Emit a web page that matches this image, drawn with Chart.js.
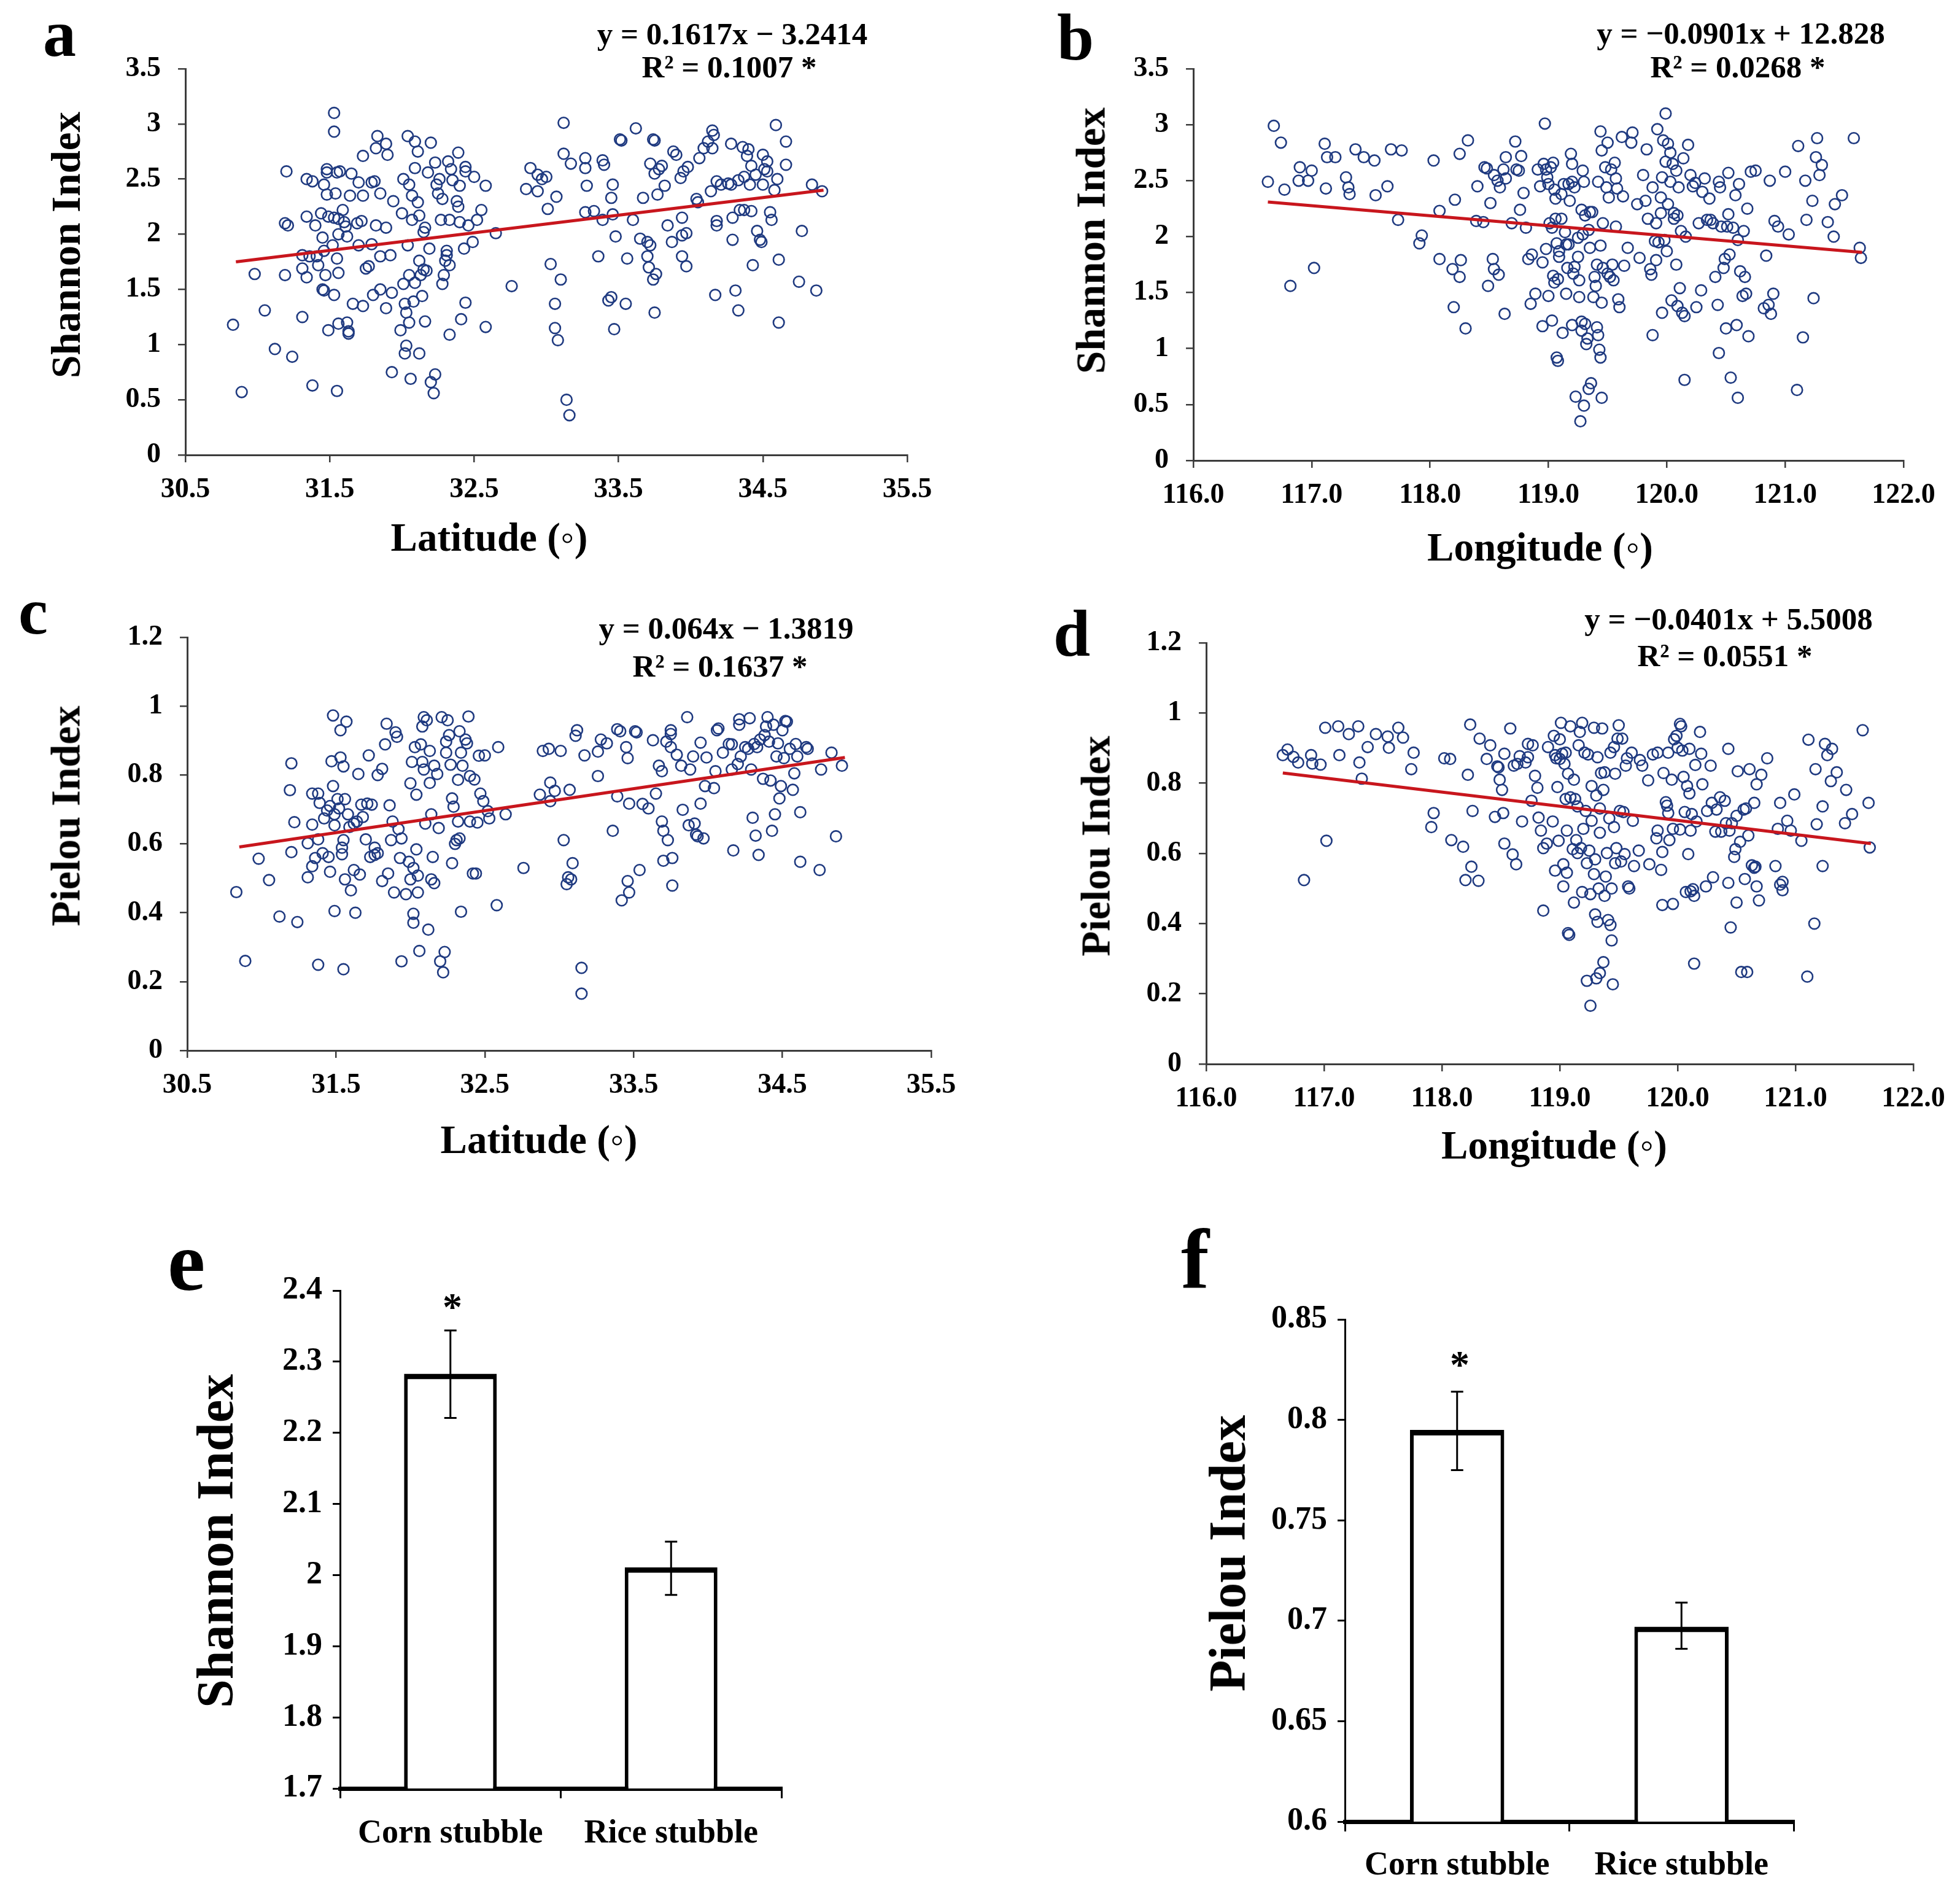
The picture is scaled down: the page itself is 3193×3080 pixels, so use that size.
<!DOCTYPE html>
<html><head><meta charset="utf-8">
<script src="https://cdn.jsdelivr.net/npm/chart.js@4.4.1/dist/chart.umd.min.js"></script>
<style>
html,body{margin:0;padding:0;background:#fff;}
#root{position:relative;width:3193px;height:3080px;overflow:hidden;background:#fff;}
canvas{position:absolute;}
.t{position:absolute;font-family:'Liberation Serif','Times New Roman',serif;font-weight:bold;line-height:1;white-space:nowrap;color:#000;}
</style></head><body><div id="root"></div>
<script>
// ---------------- DATA ----------------
const latTicks = [30.5, 31.5, 32.5, 33.5, 34.5, 35.5];
const latTickLabels = ["30.5", "31.5", "32.5", "33.5", "34.5", "35.5"];
const lonTicks = [116, 117, 118, 119, 120, 121, 122];
const lonTickLabels = ["116.0", "117.0", "118.0", "119.0", "120.0", "121.0", "122.0"];
const shannonTicks = [0, 0.5, 1, 1.5, 2, 2.5, 3, 3.5];
const shannonTickLabels = ["0", "0.5", "1", "1.5", "2", "2.5", "3", "3.5"];
const pielouTicks = [0, 0.2, 0.4, 0.6, 0.8, 1, 1.2];
const pielouTickLabels = ["0", "0.2", "0.4", "0.6", "0.8", "1", "1.2"];

// panel a: latitude vs Shannon
const shannonByLat = [[30.83,1.18],[30.89,0.57],[30.98,1.64],[31.05,1.31],[31.12,0.96],[31.19,1.63],[31.19,2.10],[31.21,2.08],[31.20,2.57],[31.24,0.89],[31.31,1.81],[31.31,1.25],[31.31,1.69],[31.34,2.50],[31.34,2.16],[31.34,1.61],[31.36,1.80],[31.38,2.48],[31.38,0.63],[31.40,2.08],[31.41,1.80],[31.42,1.72],[31.44,2.19],[31.45,1.97],[31.45,1.50],[31.46,1.85],[31.46,1.49],[31.46,2.45],[31.47,1.63],[31.48,2.59],[31.48,2.56],[31.48,2.36],[31.49,1.13],[31.49,2.16],[31.52,1.90],[31.53,3.10],[31.53,2.93],[31.53,2.15],[31.53,1.45],[31.54,2.37],[31.55,0.58],[31.55,2.56],[31.55,1.78],[31.56,1.65],[31.56,1.19],[31.56,2.14],[31.57,2.57],[31.56,2.00],[31.59,2.22],[31.60,2.11],[31.61,2.07],[31.62,1.98],[31.62,1.20],[31.63,1.10],[31.63,1.12],[31.64,2.35],[31.65,2.55],[31.66,1.37],[31.69,2.10],[31.70,2.47],[31.70,1.90],[31.72,2.12],[31.73,2.35],[31.73,2.71],[31.73,1.35],[31.75,1.69],[31.77,1.71],[31.79,1.91],[31.79,2.47],[31.80,1.45],[31.81,2.48],[31.82,2.08],[31.82,2.78],[31.83,2.89],[31.85,2.37],[31.85,1.80],[31.85,1.50],[31.89,2.82],[31.89,2.06],[31.89,1.33],[31.90,2.72],[31.92,1.81],[31.93,0.75],[31.94,2.30],[31.93,1.47],[31.99,1.13],[32.00,2.19],[32.01,2.50],[32.01,1.55],[32.02,1.37],[32.02,0.92],[32.03,0.99],[32.03,1.29],[32.04,1.90],[32.04,2.89],[32.05,2.45],[32.05,1.63],[32.05,1.20],[32.06,0.69],[32.07,2.35],[32.07,2.13],[32.08,1.39],[32.09,2.84],[32.09,2.60],[32.09,1.56],[32.11,2.29],[32.11,2.75],[32.12,0.92],[32.12,2.17],[32.12,1.76],[32.13,1.63],[32.14,1.44],[32.15,2.02],[32.15,1.68],[32.16,2.06],[32.16,1.21],[32.17,1.67],[32.18,2.56],[32.19,1.87],[32.20,2.83],[32.20,0.66],[32.22,0.56],[32.23,0.73],[32.23,2.65],[32.24,2.45],[32.25,2.37],[32.26,2.50],[32.27,2.13],[32.28,1.55],[32.28,2.32],[32.29,1.63],[32.30,1.76],[32.31,1.85],[32.31,1.81],[32.32,2.66],[32.33,1.72],[32.33,1.09],[32.33,2.13],[32.34,2.59],[32.35,2.49],[32.38,2.30],[32.39,2.25],[32.39,2.74],[32.40,2.44],[32.40,2.11],[32.41,1.23],[32.43,1.87],[32.44,1.38],[32.44,2.61],[32.44,2.57],[32.46,2.08],[32.49,1.93],[32.50,2.52],[32.52,2.13],[32.55,2.22],[32.58,1.16],[32.58,2.44],[32.65,2.01],[32.76,1.53],[32.86,2.41],[32.89,2.60],[32.94,2.54],[32.94,2.39],[32.97,2.50],[33.00,2.52],[33.01,2.23],[33.03,1.73],[33.06,1.37],[33.06,1.15],[33.07,2.34],[33.08,1.04],[33.10,1.59],[33.12,2.73],[33.12,3.01],[33.14,0.50],[33.16,0.36],[33.17,2.64],[33.27,2.69],[33.27,2.20],[33.27,2.60],[33.28,2.44],[33.33,2.21],[33.36,1.80],[33.39,2.13],[33.39,2.67],[33.40,2.63],[33.43,1.40],[33.45,1.43],[33.45,2.33],[33.46,2.18],[33.46,2.45],[33.47,1.14],[33.48,1.98],[33.51,2.86],[33.52,2.85],[33.55,1.37],[33.56,1.78],[33.60,2.13],[33.62,2.96],[33.65,1.96],[33.67,2.33],[33.70,1.93],[33.70,1.80],[33.71,1.70],[33.72,2.64],[33.72,1.90],[33.74,1.59],[33.75,1.29],[33.76,1.64],[33.74,2.86],[33.75,2.85],[33.75,2.55],[33.77,2.36],[33.78,2.59],[33.80,2.62],[33.82,2.44],[33.84,2.08],[33.87,1.93],[33.88,2.75],[33.90,2.72],[33.93,2.51],[33.94,2.15],[33.94,1.80],[33.95,2.57],[33.94,1.99],[33.97,1.71],[33.97,2.01],[33.98,2.61],[34.04,2.32],[34.05,2.29],[34.06,2.69],[34.09,2.78],[34.12,2.84],[34.14,2.39],[34.15,2.94],[34.16,2.90],[34.15,2.78],[34.17,1.45],[34.18,2.48],[34.18,2.08],[34.18,2.12],[34.21,2.45],[34.26,2.46],[34.28,2.82],[34.28,2.45],[34.29,1.95],[34.29,2.15],[34.31,1.49],[34.33,1.31],[34.33,2.49],[34.34,2.22],[34.36,2.79],[34.37,2.22],[34.37,2.52],[34.39,2.71],[34.40,2.77],[34.41,2.45],[34.42,2.62],[34.42,2.21],[34.43,1.72],[34.45,2.54],[34.46,2.03],[34.48,1.95],[34.49,1.93],[34.50,2.72],[34.50,2.45],[34.51,2.59],[34.53,2.66],[34.53,2.57],[34.55,2.20],[34.56,2.13],[34.58,2.40],[34.59,2.99],[34.60,2.50],[34.61,1.77],[34.61,1.20],[34.66,2.63],[34.66,2.84],[34.75,1.57],[34.77,2.03],[34.84,2.45],[34.87,1.49],[34.91,2.39]];
const shannonLatTrend = [[30.85,1.75],[34.92,2.40]];

// panel b: longitude vs Shannon
const shannonByLon = [[116.63,2.49],[116.68,2.99],[116.74,2.84],[116.77,2.42],[116.82,1.56],[116.89,2.50],[116.90,2.62],[116.97,2.50],[117.00,2.59],[117.02,1.72],[117.11,2.83],[117.12,2.43],[117.13,2.71],[117.20,2.71],[117.29,2.53],[117.31,2.44],[117.32,2.38],[117.37,2.78],[117.44,2.71],[117.53,2.68],[117.54,2.37],[117.64,2.45],[117.67,2.78],[117.76,2.77],[117.73,2.15],[117.91,1.94],[117.93,2.01],[118.03,2.68],[118.08,2.23],[118.08,1.80],[118.19,1.71],[118.20,1.37],[118.21,2.33],[118.25,2.74],[118.25,1.64],[118.26,1.79],[118.30,1.18],[118.32,2.86],[118.39,2.14],[118.40,2.45],[118.45,2.13],[118.46,2.62],[118.48,2.61],[118.49,1.56],[118.51,2.30],[118.53,1.80],[118.54,2.55],[118.54,1.71],[118.57,2.50],[118.58,1.66],[118.59,2.44],[118.62,2.60],[118.63,1.31],[118.64,2.52],[118.64,2.71],[118.69,2.12],[118.72,2.85],[118.73,2.60],[118.75,2.59],[118.76,2.24],[118.77,2.72],[118.79,2.39],[118.81,2.08],[118.83,1.80],[118.85,1.40],[118.86,1.84],[118.89,1.49],[118.91,2.60],[118.93,2.45],[118.95,1.77],[118.95,1.20],[118.96,2.65],[118.97,3.01],[118.98,2.60],[118.98,1.89],[118.99,2.53],[119.00,2.47],[119.00,1.47],[119.01,2.12],[119.02,2.62],[119.03,1.25],[119.03,2.08],[119.04,1.65],[119.04,2.66],[119.05,2.42],[119.05,1.59],[119.06,2.34],[119.06,2.16],[119.07,1.94],[119.07,0.92],[119.08,0.89],[119.08,1.62],[119.09,1.82],[119.09,1.87],[119.11,2.38],[119.11,2.16],[119.12,1.14],[119.13,2.47],[119.14,2.04],[119.15,1.93],[119.15,1.49],[119.16,1.72],[119.17,1.93],[119.17,2.47],[119.18,2.32],[119.19,2.74],[119.20,2.65],[119.20,2.49],[119.20,1.21],[119.21,1.67],[119.22,1.73],[119.22,2.44],[119.23,0.57],[119.25,1.82],[119.25,1.99],[119.26,1.61],[119.26,1.46],[119.27,0.35],[119.28,2.24],[119.28,1.24],[119.28,1.16],[119.29,2.02],[119.29,2.59],[119.30,0.49],[119.30,2.49],[119.31,2.19],[119.31,1.22],[119.32,1.04],[119.33,1.09],[119.34,2.06],[119.34,0.64],[119.35,2.22],[119.35,1.90],[119.36,0.69],[119.37,2.22],[119.38,1.46],[119.39,1.64],[119.40,1.56],[119.41,1.75],[119.41,1.19],[119.42,1.12],[119.42,2.49],[119.43,0.99],[119.44,0.92],[119.44,2.94],[119.44,1.92],[119.45,2.77],[119.45,1.41],[119.45,0.56],[119.46,2.12],[119.46,1.72],[119.48,2.62],[119.49,2.44],[119.50,2.84],[119.50,1.67],[119.51,2.35],[119.52,1.64],[119.53,2.60],[119.54,1.75],[119.55,1.61],[119.56,2.66],[119.57,2.09],[119.57,2.52],[119.58,2.43],[119.59,1.44],[119.60,1.37],[119.62,2.89],[119.63,2.36],[119.64,1.74],[119.67,1.90],[119.70,2.84],[119.71,2.93],[119.75,2.29],[119.77,1.81],[119.80,2.55],[119.82,2.32],[119.83,2.78],[119.84,2.16],[119.86,1.71],[119.87,1.66],[119.88,1.12],[119.88,2.44],[119.90,1.96],[119.91,1.79],[119.91,2.12],[119.92,2.96],[119.93,1.95],[119.95,2.35],[119.95,2.21],[119.96,2.53],[119.96,1.32],[119.97,2.86],[119.98,1.97],[119.99,3.10],[119.99,2.67],[120.00,1.87],[120.01,2.29],[120.01,2.83],[120.03,2.49],[120.03,2.75],[120.04,1.43],[120.05,2.65],[120.06,2.16],[120.06,2.21],[120.08,2.59],[120.08,1.75],[120.09,2.19],[120.09,1.38],[120.10,2.44],[120.11,1.54],[120.12,2.05],[120.13,1.32],[120.14,2.70],[120.15,1.29],[120.15,0.72],[120.16,2.00],[120.18,2.82],[120.20,2.55],[120.22,2.45],[120.24,2.48],[120.25,1.37],[120.27,2.12],[120.29,1.52],[120.30,2.40],[120.32,2.52],[120.34,2.15],[120.36,2.34],[120.37,2.15],[120.39,2.12],[120.41,1.64],[120.43,1.39],[120.44,0.96],[120.44,2.49],[120.45,2.44],[120.46,2.09],[120.48,1.72],[120.49,1.80],[120.50,1.18],[120.51,2.09],[120.52,2.20],[120.52,2.57],[120.53,1.84],[120.54,0.74],[120.56,2.08],[120.58,2.37],[120.59,1.21],[120.60,1.97],[120.60,0.56],[120.61,2.47],[120.62,1.69],[120.64,1.47],[120.65,2.05],[120.66,1.64],[120.67,1.49],[120.68,2.25],[120.69,1.11],[120.71,2.58],[120.75,2.59],[120.82,1.36],[120.84,1.83],[120.86,1.39],[120.87,2.50],[120.88,1.31],[120.90,1.49],[120.91,2.14],[120.94,2.09],[121.00,2.58],[121.03,2.02],[121.10,0.63],[121.11,2.81],[121.15,1.10],[121.17,2.50],[121.18,2.15],[121.23,2.32],[121.24,1.45],[121.26,2.71],[121.27,2.88],[121.29,2.55],[121.31,2.64],[121.36,2.13],[121.41,2.00],[121.42,2.29],[121.48,2.37],[121.58,2.88],[121.63,1.90],[121.64,1.81]];
const shannonLonTrend = [[116.63,2.31],[121.65,1.86]];

// panel c: latitude vs Pielou
const pielouByLat = [[30.83,0.46],[30.89,0.26],[30.98,0.557],[31.05,0.495],[31.12,0.389],[31.19,0.756],[31.20,0.834],[31.20,0.576],[31.22,0.663],[31.24,0.373],[31.31,0.602],[31.31,0.503],[31.34,0.746],[31.34,0.656],[31.34,0.535],[31.36,0.559],[31.38,0.746],[31.38,0.613],[31.38,0.249],[31.39,0.719],[31.41,0.573],[31.42,0.674],[31.44,0.697],[31.45,0.562],[31.46,0.519],[31.46,0.710],[31.47,0.840],[31.48,0.973],[31.48,0.768],[31.49,0.405],[31.49,0.654],[31.49,0.686],[31.51,0.730],[31.52,0.703],[31.53,0.930],[31.53,0.851],[31.54,0.570],[31.54,0.589],[31.55,0.236],[31.55,0.611],[31.55,0.825],[31.56,0.497],[31.56,0.730],[31.57,0.955],[31.58,0.686],[31.59,0.649],[31.60,0.465],[31.62,0.524],[31.62,0.659],[31.63,0.400],[31.64,0.665],[31.65,0.803],[31.66,0.511],[31.67,0.714],[31.68,0.678],[31.70,0.613],[31.71,0.717],[31.72,0.857],[31.73,0.562],[31.74,0.714],[31.76,0.568],[31.76,0.589],[31.78,0.800],[31.78,0.573],[31.81,0.492],[31.81,0.818],[31.83,0.889],[31.84,0.949],[31.85,0.514],[31.86,0.712],[31.87,0.611],[31.88,0.665],[31.89,0.459],[31.90,0.924],[31.91,0.911],[31.92,0.643],[31.93,0.559],[31.94,0.259],[31.94,0.616],[31.97,0.454],[31.99,0.548],[32.00,0.776],[32.00,0.497],[32.01,0.838],[32.02,0.397],[32.02,0.530],[32.02,0.371],[32.03,0.881],[32.04,0.743],[32.04,0.584],[32.05,0.508],[32.05,0.459],[32.06,0.289],[32.07,0.889],[32.08,0.838],[32.08,0.941],[32.09,0.968],[32.09,0.816],[32.10,0.659],[32.11,0.959],[32.12,0.351],[32.13,0.870],[32.13,0.777],[32.14,0.686],[32.14,0.497],[32.15,0.562],[32.16,0.486],[32.16,0.827],[32.18,0.803],[32.19,0.646],[32.20,0.259],[32.21,0.968],[32.22,0.227],[32.23,0.286],[32.24,0.865],[32.24,0.897],[32.25,0.959],[32.26,0.916],[32.27,0.830],[32.28,0.544],[32.28,0.732],[32.29,0.708],[32.30,0.600],[32.31,0.611],[32.32,0.786],[32.32,0.665],[32.33,0.927],[32.33,0.616],[32.34,0.403],[32.34,0.865],[32.35,0.827],[32.37,0.903],[32.38,0.892],[32.39,0.970],[32.40,0.797],[32.40,0.665],[32.42,0.514],[32.43,0.787],[32.44,0.514],[32.45,0.662],[32.46,0.856],[32.47,0.746],[32.49,0.724],[32.50,0.857],[32.52,0.695],[32.53,0.674],[32.58,0.422],[32.59,0.881],[32.64,0.686],[32.76,0.530],[32.87,0.743],[32.89,0.870],[32.93,0.876],[32.94,0.778],[32.94,0.724],[32.97,0.754],[33.01,0.870],[33.03,0.611],[33.05,0.483],[33.06,0.503],[33.07,0.757],[33.08,0.497],[33.09,0.544],[33.11,0.914],[33.12,0.930],[33.15,0.240],[33.15,0.165],[33.17,0.857],[33.26,0.797],[33.26,0.868],[33.28,0.903],[33.32,0.892],[33.36,0.638],[33.39,0.738],[33.39,0.933],[33.41,0.927],[33.42,0.436],[33.45,0.881],[33.46,0.849],[33.46,0.492],[33.47,0.459],[33.47,0.717],[33.51,0.927],[33.52,0.924],[33.54,0.524],[33.56,0.716],[33.60,0.703],[33.63,0.901],[33.65,0.746],[33.67,0.827],[33.69,0.811],[33.69,0.665],[33.70,0.551],[33.70,0.638],[33.72,0.897],[33.73,0.611],[33.75,0.930],[33.75,0.919],[33.75,0.881],[33.76,0.479],[33.76,0.559],[33.79,0.859],[33.82,0.827],[33.83,0.699],[33.86,0.968],[33.87,0.654],[33.88,0.816],[33.90,0.854],[33.91,0.659],[33.92,0.627],[33.93,0.622],[33.95,0.717],[33.95,0.894],[33.97,0.616],[33.98,0.768],[33.99,0.851],[34.04,0.762],[34.05,0.811],[34.06,0.930],[34.07,0.935],[34.10,0.865],[34.14,0.890],[34.16,0.816],[34.16,0.889],[34.17,0.581],[34.20,0.832],[34.21,0.946],[34.21,0.962],[34.22,0.854],[34.25,0.881],[34.27,0.876],[34.28,0.965],[34.29,0.816],[34.30,0.676],[34.31,0.890],[34.32,0.624],[34.33,0.881],[34.34,0.568],[34.35,0.903],[34.37,0.789],[34.38,0.916],[34.39,0.941],[34.40,0.968],[34.41,0.897],[34.42,0.784],[34.43,0.638],[34.44,0.946],[34.45,0.686],[34.46,0.854],[34.47,0.892],[34.48,0.732],[34.49,0.768],[34.50,0.930],[34.51,0.849],[34.52,0.957],[34.53,0.955],[34.55,0.876],[34.57,0.757],[34.58,0.805],[34.59,0.890],[34.60,0.854],[34.62,0.692],[34.62,0.548],[34.66,0.881],[34.67,0.876],[34.75,0.524],[34.76,0.816],[34.83,0.865],[34.86,0.622],[34.90,0.827]];
const pielouLatTrend = [[30.85,0.591],[34.92,0.851]];

// panel d: longitude vs Pielou
const pielouByLon = [[116.65,0.880],[116.69,0.896],[116.74,0.875],[116.78,0.859],[116.83,0.524],[116.89,0.880],[116.90,0.856],[116.97,0.853],[117.01,0.958],[117.02,0.636],[117.12,0.962],[117.13,0.880],[117.21,0.940],[117.29,0.962],[117.30,0.859],[117.32,0.813],[117.37,0.903],[117.44,0.940],[117.54,0.933],[117.55,0.901],[117.63,0.958],[117.67,0.930],[117.74,0.840],[117.76,0.887],[117.91,0.675],[117.93,0.715],[118.02,0.871],[118.07,0.869],[118.08,0.638],[118.18,0.619],[118.20,0.524],[118.22,0.824],[118.24,0.967],[118.25,0.562],[118.26,0.721],[118.31,0.522],[118.32,0.927],[118.38,0.869],[118.41,0.908],[118.45,0.704],[118.47,0.848],[118.48,0.845],[118.49,0.810],[118.51,0.781],[118.52,0.715],[118.53,0.628],[118.53,0.884],[118.58,0.956],[118.60,0.597],[118.61,0.850],[118.63,0.569],[118.64,0.855],[118.66,0.877],[118.68,0.691],[118.71,0.859],[118.73,0.874],[118.73,0.912],[118.76,0.750],[118.77,0.908],[118.79,0.821],[118.81,0.787],[118.82,0.702],[118.84,0.665],[118.86,0.615],[118.86,0.437],[118.89,0.628],[118.90,0.903],[118.94,0.691],[118.95,0.935],[118.96,0.880],[118.96,0.551],[118.97,0.871],[118.98,0.789],[118.99,0.636],[119.00,0.925],[119.00,0.869],[119.01,0.972],[119.02,0.884],[119.03,0.569],[119.03,0.506],[119.04,0.855],[119.05,0.755],[119.05,0.887],[119.06,0.665],[119.06,0.545],[119.07,0.827],[119.07,0.373],[119.08,0.368],[119.09,0.760],[119.09,0.962],[119.11,0.612],[119.12,0.460],[119.12,0.810],[119.13,0.755],[119.14,0.638],[119.15,0.601],[119.15,0.734],[119.16,0.908],[119.17,0.946],[119.18,0.615],[119.19,0.490],[119.19,0.972],[119.20,0.670],[119.21,0.887],[119.22,0.721],[119.23,0.237],[119.23,0.572],[119.24,0.882],[119.25,0.608],[119.26,0.484],[119.26,0.166],[119.27,0.693],[119.27,0.792],[119.29,0.958],[119.29,0.541],[119.30,0.583],[119.30,0.426],[119.31,0.765],[119.31,0.244],[119.32,0.405],[119.32,0.874],[119.33,0.500],[119.34,0.659],[119.34,0.728],[119.34,0.259],[119.35,0.829],[119.36,0.956],[119.37,0.290],[119.37,0.781],[119.38,0.831],[119.38,0.479],[119.39,0.534],[119.40,0.601],[119.41,0.410],[119.42,0.700],[119.43,0.396],[119.43,0.887],[119.44,0.352],[119.44,0.500],[119.45,0.227],[119.46,0.675],[119.46,0.903],[119.47,0.572],[119.47,0.827],[119.48,0.615],[119.49,0.927],[119.50,0.965],[119.51,0.721],[119.52,0.577],[119.53,0.927],[119.54,0.718],[119.55,0.598],[119.56,0.850],[119.57,0.871],[119.58,0.506],[119.59,0.500],[119.61,0.887],[119.62,0.693],[119.63,0.564],[119.67,0.608],[119.68,0.866],[119.70,0.850],[119.75,0.808],[119.76,0.569],[119.79,0.882],[119.82,0.643],[119.83,0.665],[119.83,0.887],[119.86,0.553],[119.87,0.604],[119.87,0.453],[119.88,0.829],[119.90,0.746],[119.91,0.736],[119.92,0.887],[119.92,0.715],[119.93,0.638],[119.95,0.810],[119.96,0.670],[119.96,0.456],[119.97,0.925],[119.99,0.935],[120.00,0.901],[120.02,0.969],[120.02,0.668],[120.03,0.962],[120.04,0.893],[120.05,0.818],[120.06,0.718],[120.07,0.490],[120.08,0.792],[120.09,0.598],[120.10,0.898],[120.10,0.771],[120.11,0.665],[120.11,0.492],[120.12,0.712],[120.13,0.498],[120.14,0.286],[120.14,0.479],[120.15,0.852],[120.16,0.691],[120.19,0.946],[120.20,0.884],[120.21,0.797],[120.24,0.506],[120.25,0.721],[120.28,0.850],[120.29,0.744],[120.30,0.532],[120.32,0.662],[120.33,0.725],[120.36,0.760],[120.37,0.662],[120.40,0.750],[120.41,0.686],[120.43,0.516],[120.43,0.898],[120.44,0.665],[120.45,0.389],[120.46,0.686],[120.48,0.590],[120.49,0.612],[120.50,0.707],[120.50,0.460],[120.51,0.834],[120.53,0.633],[120.54,0.262],[120.56,0.725],[120.57,0.527],[120.58,0.728],[120.59,0.262],[120.60,0.651],[120.61,0.840],[120.63,0.566],[120.65,0.559],[120.65,0.744],[120.66,0.562],[120.67,0.797],[120.67,0.506],[120.69,0.466],[120.71,0.824],[120.76,0.871],[120.83,0.564],[120.85,0.670],[120.87,0.744],[120.87,0.511],[120.89,0.495],[120.89,0.519],[120.93,0.693],[120.96,0.665],[120.99,0.768],[121.05,0.636],[121.10,0.249],[121.11,0.924],[121.16,0.400],[121.17,0.840],[121.18,0.683],[121.23,0.734],[121.23,0.564],[121.25,0.912],[121.27,0.880],[121.30,0.806],[121.31,0.898],[121.35,0.831],[121.42,0.686],[121.43,0.781],[121.48,0.712],[121.57,0.951],[121.62,0.744],[121.63,0.617]];
const pielouLonTrend = [[116.65,0.829],[121.64,0.628]];

// panels e / f: bar charts
const stubbleCategories = ["Corn stubble", "Rice stubble"];
const shannonMeans = [2.283, 2.011];
const shannonErrLow = [2.221, 1.972];
const shannonErrHigh = [2.344, 2.047];
const shannonBarTicks = [1.7, 1.8, 1.9, 2.0, 2.1, 2.2, 2.3, 2.4];
const shannonBarTickLabels = ["1.7", "1.8", "1.9", "2", "2.1", "2.2", "2.3", "2.4"];
const pielouMeans = [0.795, 0.697];
const pielouErrLow = [0.775, 0.686];
const pielouErrHigh = [0.814, 0.709];
const pielouBarTicks = [0.6, 0.65, 0.7, 0.75, 0.8, 0.85];
const pielouBarTickLabels = ["0.6", "0.65", "0.7", "0.75", "0.8", "0.85"];

// ---------------- RENDER ----------------
const FONT = "'Liberation Serif', 'Times New Roman', serif";
const NAVY = '#1F3A80';
const RED = '#C8161D';
const AX = '#3c3c3c';
const root = document.getElementById('root');

function makeCanvas(box){
  const cv = document.createElement('canvas');
  cv.width = box.w; cv.height = box.h;
  cv.style.left = box.x + 'px'; cv.style.top = box.y + 'px';
  cv.style.width = box.w + 'px'; cv.style.height = box.h + 'px';
  root.appendChild(cv);
  return cv;
}

function scatterPanel(box, area, xr, yr, xTicks, xLabels, yTicks, yLabels, pts, trend){
  const cv = makeCanvas(box);
  const tickFont = {family: FONT, size: 46, weight: 'bold'};
  new Chart(cv, {
    type: 'scatter',
    data: {datasets: [
      {data: trend.map(p => ({x: p[0], y: p[1]})), showLine: true, borderColor: RED, borderWidth: 5,
       pointRadius: 0, order: 0, clip: false},
      {data: pts.map(p => ({x: p[0], y: p[1]})), pointRadius: 8.8, pointBorderWidth: 2.6,
       pointBorderColor: NAVY, pointBackgroundColor: 'rgba(255,255,255,0)', order: 1, clip: false}
    ]},
    options: {
      responsive: false, animation: false, devicePixelRatio: 1, events: [],
      layout: {padding: {left: 0, top: area.t - box.y, right: box.x + box.w - area.r, bottom: 0}},
      plugins: {legend: {display: false}, tooltip: {enabled: false}},
      scales: {
        x: {type: 'linear', min: xr[0], max: xr[1],
            afterFit: s => { s.height = box.y + box.h - area.b; },
            afterBuildTicks: s => { s.ticks = xTicks.map(v => ({value: v})); },
            ticks: {autoSkip: false, maxRotation: 0, font: tickFont, color: '#000', padding: 18,
                    callback: (v, i) => xLabels[i]},
            grid: {drawOnChartArea: false, drawTicks: true, tickLength: 12, tickWidth: 2.5, tickColor: AX, color: AX, lineWidth: 2.5},
            border: {display: true, color: AX, width: 3}},
        y: {type: 'linear', min: yr[0], max: yr[1],
            afterFit: s => { s.width = area.l - box.x; },
            afterBuildTicks: s => { s.ticks = yTicks.map(v => ({value: v})); },
            ticks: {autoSkip: false, font: tickFont, color: '#000', padding: 28,
                    callback: (v, i) => yLabels[i]},
            grid: {drawOnChartArea: false, drawTicks: true, tickLength: 12, tickWidth: 2.5, tickColor: AX, color: AX, lineWidth: 2.5},
            border: {display: true, color: AX, width: 3}}
      }
    }
  });
}

const errorBarPlugin = {
  id: 'errbars',
  afterDatasetsDraw(chart, args, opts){
    const ctx = chart.ctx;
    const meta = chart.getDatasetMeta(0);
    const ys = chart.scales.y;
    ctx.save();
    ctx.strokeStyle = '#000';
    ctx.lineWidth = opts.width;
    meta.data.forEach((bar, i) => {
      const x = bar.x;
      const yl = ys.getPixelForValue(opts.low[i]);
      const yh = ys.getPixelForValue(opts.high[i]);
      ctx.beginPath();
      ctx.moveTo(x, yl); ctx.lineTo(x, yh);
      ctx.moveTo(x - opts.cap, yl); ctx.lineTo(x + opts.cap, yl);
      ctx.moveTo(x - opts.cap, yh); ctx.lineTo(x + opts.cap, yh);
      ctx.stroke();
    });
    ctx.restore();
  }
};

function barPanel(box, area, yr, yTicks, yLabels, means, low, high, xPad){
  const cv = makeCanvas(box);
  new Chart(cv, {
    type: 'bar',
    data: {labels: stubbleCategories, datasets: [{data: means, backgroundColor: '#fff', borderColor: '#000',
           borderWidth: {top: 9, left: 6, right: 6, bottom: 0}, borderSkipped: 'start',
           barPercentage: 0.42, categoryPercentage: 1}]},
    options: {
      responsive: false, animation: false, devicePixelRatio: 1, events: [],
      layout: {padding: {left: 0, top: area.t - box.y, right: box.x + box.w - area.r, bottom: 0}},
      plugins: {legend: {display: false}, tooltip: {enabled: false},
                errbars: {low: low, high: high, cap: 10, width: 3}},
      scales: {
        x: {type: 'category', offset: true,
            afterFit: s => { s.height = box.y + box.h - area.b; },
            ticks: {autoSkip: false, maxRotation: 0, font: {family: FONT, size: 54, weight: 'bold'}, color: '#000', padding: xPad},
            grid: {offset: true, drawOnChartArea: false, drawTicks: true, tickLength: 16, tickWidth: 3, tickColor: '#000', color: '#000', lineWidth: 3},
            border: {display: true, color: '#000', width: 7}},
        y: {type: 'linear', min: yr[0], max: yr[1],
            afterFit: s => { s.width = area.l - box.x; },
            afterBuildTicks: s => { s.ticks = yTicks.map(v => ({value: v})); },
            ticks: {autoSkip: false, font: {family: FONT, size: 52, weight: 'bold'}, color: '#000', padding: 17,
                    callback: (v, i) => yLabels[i]},
            grid: {drawOnChartArea: false, drawTicks: true, tickLength: 12, tickWidth: 3, tickColor: '#000', color: '#000', lineWidth: 3},
            border: {display: true, color: '#000', width: 3}}
      }
    },
    plugins: [errorBarPlugin]
  });
}

scatterPanel({x:0, y:0, w:1600, h:950}, {l:302, r:1478, t:112, b:741}, [30.5, 35.5], [0, 3.5],
  latTicks, latTickLabels, shannonTicks, shannonTickLabels, shannonByLat, shannonLatTrend);
scatterPanel({x:1600, y:0, w:1593, h:950}, {l:1944, r:3101, t:112, b:750}, [116, 122], [0, 3.5],
  lonTicks, lonTickLabels, shannonTicks, shannonTickLabels, shannonByLon, shannonLonTrend);
scatterPanel({x:0, y:950, w:1600, h:950}, {l:305, r:1517, t:1038, b:1711}, [30.5, 35.5], [0, 1.2],
  latTicks, latTickLabels, pielouTicks, pielouTickLabels, pielouByLat, pielouLatTrend);
scatterPanel({x:1600, y:950, w:1593, h:950}, {l:1965, r:3117, t:1047, b:1733}, [116, 122], [0, 1.2],
  lonTicks, lonTickLabels, pielouTicks, pielouTickLabels, pielouByLon, pielouLonTrend);
barPanel({x:0, y:1950, w:1596, h:1130}, {l:554, r:1273, t:2102, b:2913}, [1.7, 2.4],
  shannonBarTicks, shannonBarTickLabels, shannonMeans, shannonErrLow, shannonErrHigh, 26);
barPanel({x:1596, y:1950, w:1597, h:1130}, {l:2191, r:2922, t:2149, b:2967}, [0.6, 0.85],
  pielouBarTicks, pielouBarTickLabels, pielouMeans, pielouErrLow, pielouErrHigh, 24);

// ---------------- TEXT ----------------
function addText(s, opt){
  const d = document.createElement('div');
  d.className = 't';
  d.textContent = s;
  d.style.fontSize = opt.size + 'px';
  if (opt.rot) {
    d.style.left = opt.cx + 'px'; d.style.top = opt.cy + 'px';
    d.style.transform = 'translate(-50%,-50%) rotate(-90deg)';
  } else if (opt.left !== undefined) {
    d.style.left = opt.left + 'px';
    d.style.top = (opt.base - 0.8375 * opt.size) + 'px';
  } else if (opt.cy !== undefined) {
    d.style.left = opt.cx + 'px';
    d.style.top = (opt.cy - 0.36 * opt.size) + 'px';
    d.style.transform = 'translateX(-50%)';
  } else {
    d.style.left = opt.cx + 'px';
    d.style.top = (opt.base - 0.8375 * opt.size) + 'px';
    d.style.transform = 'translateX(-50%)';
  }
  root.appendChild(d);
}

// panel letters
addText('a', {left:70, base:91, size:108});
addText('b', {left:1722, base:97, size:108});
addText('c', {left:30, base:1032, size:108});
addText('d', {left:1716, base:1068, size:108});
addText('e', {left:273, base:2102, size:138});
addText('f', {left:1924, base:2098, size:138});

// regression equations
addText('y = 0.1617x \u2212 3.2414', {cx:1193, base:73, size:51});
addText('R\u00B2 = 0.1007 *', {cx:1188, base:127, size:51});
addText('y = \u22120.0901x + 12.828', {cx:2836, base:72, size:51});
addText('R\u00B2 = 0.0268 *', {cx:2831, base:127, size:51});
addText('y = 0.064x \u2212 1.3819', {cx:1183, base:1041, size:51});
addText('R\u00B2 = 0.1637 *', {cx:1173, base:1103, size:51});
addText('y = \u22120.0401x + 5.5008', {cx:2816, base:1026, size:51});
addText('R\u00B2 = 0.0551 *', {cx:2810, base:1086, size:51});

// axis titles
addText('Latitude (\u25E6)', {cx:797, base:897, size:65});
addText('Longitude (\u25E6)', {cx:2509, base:913, size:65});
addText('Latitude (\u25E6)', {cx:878, base:1878, size:65});
addText('Longitude (\u25E6)', {cx:2532, base:1887, size:65});
addText('Shannon Index', {rot:true, cx:107, cy:399, size:67});
addText('Shannon Index', {rot:true, cx:1777, cy:392, size:67});
addText('Pielou Index', {rot:true, cx:107, cy:1329, size:67});
addText('Pielou Index', {rot:true, cx:1785, cy:1378, size:67});
addText('Shannon Index', {rot:true, cx:351, cy:2510, size:84});
addText('Pielou Index', {rot:true, cx:2000, cy:2530, size:84});

// significance marks
addText('*', {cx:737, cy:2120, size:64});
addText('*', {cx:2378, cy:2214, size:64});
</script>
</body></html>
